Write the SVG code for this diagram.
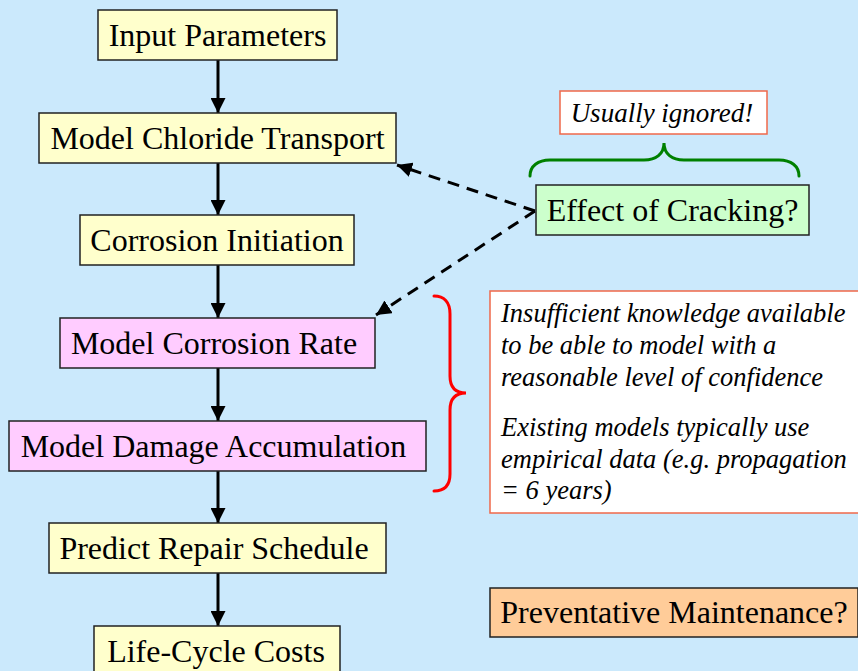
<svg xmlns="http://www.w3.org/2000/svg" width="858" height="671" viewBox="0 0 858 671">
<defs>
<style>
.node{stroke:#222;stroke-width:1.5}
.y{fill:#ffffcc}.p{fill:#ffccff}.g{fill:#ccffcc}.o{fill:#ffcc99}
.t{font-family:'Liberation Serif','Times New Roman',serif;font-size:32px;fill:#000;text-anchor:middle}
.it{font-family:'Liberation Serif','Times New Roman',serif;font-size:26.5px;font-style:italic;fill:#000}
.note{fill:#fff;stroke:#f0684a;stroke-width:1.5}
.flow{stroke:#000;stroke-width:3;fill:none;marker-end:url(#ah)}
.dash{stroke:#000;stroke-width:3;fill:none;stroke-dasharray:12 8;marker-end:url(#ah)}
.brace{fill:none;stroke-width:3;stroke-linecap:round}
</style>
<marker id="ah" viewBox="0 0 10 10" refX="10" refY="5" markerWidth="5" markerHeight="5" orient="auto" markerUnits="strokeWidth">
<path d="M0,0 L10,5 L0,10 z" fill="#000"/>
</marker>
</defs>
<rect width="858" height="671" fill="#cbe9fc"/>

<g id="connectors">
<line class="flow" x1="218" y1="60" x2="218" y2="113"/>
<line class="flow" x1="218" y1="163" x2="218" y2="215"/>
<line class="flow" x1="218" y1="265" x2="218" y2="318"/>
<line class="flow" x1="218" y1="368" x2="218" y2="421"/>
<line class="flow" x1="218" y1="471" x2="218" y2="523"/>
<line class="flow" x1="218" y1="573" x2="218" y2="626"/>
<line class="dash" x1="535" y1="211" x2="397" y2="165"/>
<line class="dash" x1="535" y1="211" x2="376" y2="315"/>
</g>

<g id="input-parameters">
<rect class="node y" x="98" y="10" width="239" height="50"/>
<text class="t" x="217.5" y="46">Input Parameters</text>
</g>
<g id="model-chloride-transport">
<rect class="node y" x="39" y="113" width="357" height="50"/>
<text class="t" x="217.5" y="149">Model Chloride Transport</text>
</g>
<g id="corrosion-initiation">
<rect class="node y" x="80" y="215" width="274" height="50"/>
<text class="t" x="217" y="251">Corrosion Initiation</text>
</g>
<g id="model-corrosion-rate">
<rect class="node p" x="60" y="318" width="315" height="50"/>
<text class="t" x="214" y="354">Model Corrosion Rate</text>
</g>
<g id="model-damage-accumulation">
<rect class="node p" x="9" y="421" width="417" height="50"/>
<text class="t" x="213.5" y="457">Model Damage Accumulation</text>
</g>
<g id="predict-repair-schedule">
<rect class="node y" x="49" y="523" width="337" height="50"/>
<text class="t" x="214" y="559">Predict Repair Schedule</text>
</g>
<g id="life-cycle-costs">
<rect class="node y" x="94" y="626" width="246" height="50"/>
<text class="t" x="216" y="662">Life-Cycle Costs</text>
</g>

<g id="effect-of-cracking">
<rect class="node g" x="536" y="185" width="273" height="50"/>
<text class="t" x="672.5" y="221">Effect of Cracking?</text>
</g>
<g id="usually-ignored">
<rect class="note" x="560" y="91" width="207" height="43"/>
<text class="it" x="662" y="122" text-anchor="middle" style="font-size:27px">Usually ignored!</text>
</g>
<g id="green-brace">
<path class="brace" stroke="#008000" d="M530,176 C530,166 538,160 550,160 L644,160 C656,160 664,154 664,143 C664,154 672,160 684,160 L779,160 C791,160 799,166 799,176"/>
</g>

<g id="red-brace">
<path class="brace" stroke="#ff0000" d="M434,296 C444,296 450,302 450,314 L450,376 C450,388 456,393 466,393 C456,393 450,398 450,410 L450,474 C450,486 444,491 434,491"/>
</g>
<g id="knowledge-note">
<rect class="note" x="490" y="291" width="370" height="222"/>
<text class="it" x="501" y="322">Insufficient knowledge available</text>
<text class="it" x="501" y="354">to be able to model with a</text>
<text class="it" x="501" y="386">reasonable level of confidence</text>
<text class="it" x="501" y="436">Existing models typically use</text>
<text class="it" x="501" y="468">empirical data (e.g. propagation</text>
<text class="it" x="501" y="499">= 6 years)</text>
</g>

<g id="preventative-maintenance">
<rect class="node o" x="490" y="588" width="368" height="49"/>
<text class="t" x="674" y="623">Preventative Maintenance?</text>
</g>
</svg>
